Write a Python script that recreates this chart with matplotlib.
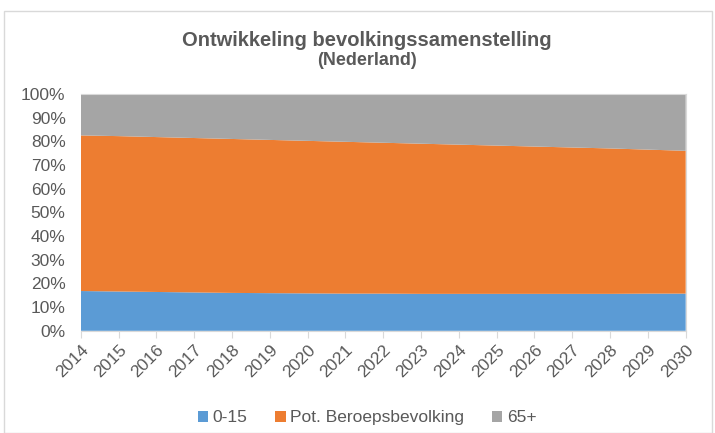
import matplotlib.pyplot as plt
import numpy as np
from matplotlib.patches import Rectangle

# jaren en aandelen (in %)
years = list(range(2014, 2031))
jong = [16.8, 16.6, 16.4, 16.2, 16.0, 15.9, 15.8, 15.7, 15.7, 15.6, 15.6, 15.6, 15.6, 15.6, 15.6, 15.7, 15.7]
top_beroeps = [82.5, 82.2, 81.8, 81.4, 81.0, 80.6, 80.2, 79.8, 79.4, 79.0, 78.6, 78.2, 77.8, 77.4, 77.0, 76.5, 76.0]
beroeps = [t - j for t, j in zip(top_beroeps, jong)]
oud = [100 - t for t in top_beroeps]

labels = ['0-15', 'Pot. Beroepsbevolking', '65+']
colors = ['#5B9BD5', '#ED7D31', '#A5A5A5']
txt = '#595959'

plt.rcParams['font.family'] = ['Liberation Sans', 'DejaVu Sans']

fig = plt.figure(figsize=(7.15, 4.33), dpi=100)
ax = fig.add_axes([0.113, 0.236, 0.846, 0.547])

ax.stackplot(years, jong, beroeps, oud, colors=colors, labels=labels, linewidth=0)

ax.set_xlim(2014, 2030)
ax.set_ylim(0, 100)
ax.set_xticks(years)
ax.set_xticklabels([str(y) for y in years], rotation=45, ha='right', rotation_mode='anchor')
ax.set_yticks(range(0, 101, 10))
ax.set_yticklabels([f'{v}%' for v in range(0, 101, 10)])
ax.tick_params(axis='both', colors=txt, labelsize=12.5)
ax.tick_params(axis='y', length=0, pad=11)
ax.tick_params(axis='x', length=5, color='#D9D9D9', pad=3)

ax.spines['left'].set_visible(False)
for side in ['top', 'right', 'bottom']:
    ax.spines[side].set_color('#D9D9D9')

fig.text(0.513, 0.907, 'Ontwikkeling bevolkingssamenstelling', ha='center', va='center',
         fontsize=14.5, fontweight='bold', color=txt)
fig.text(0.513, 0.86, '(Nederland)', ha='center', va='center',
         fontsize=13, fontweight='bold', color=txt)

ax.legend(loc='upper center', bbox_to_anchor=(0.4735, -0.27), ncol=3, frameon=False,
          fontsize=12.5, labelcolor=txt, handlelength=0.6, handleheight=0.6,
          handletextpad=0.25, columnspacing=1.6)

fig.patches.append(Rectangle((0.006, 0.0), 0.99, 0.975, transform=fig.transFigure,
                             fill=False, edgecolor='#D9D9D9', linewidth=1))

fig.savefig('out.png', dpi=100)
